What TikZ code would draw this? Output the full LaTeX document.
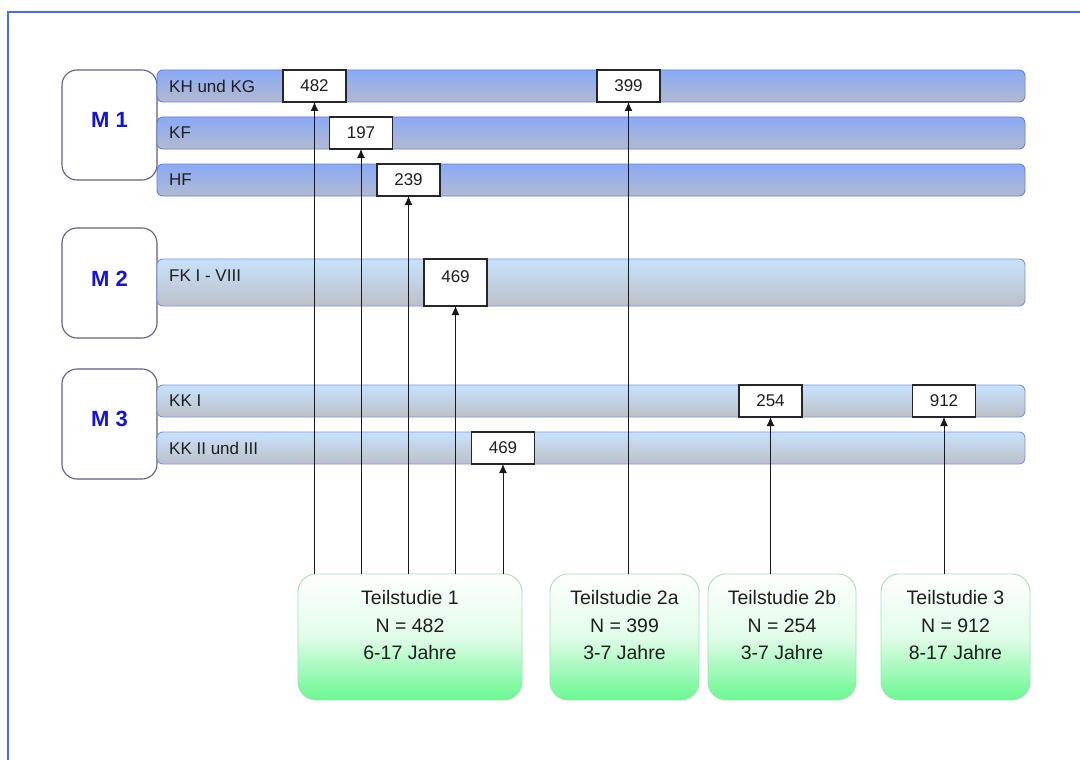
\documentclass[tikz,border=0pt]{standalone}
\usepackage{fontspec}
\setmainfont{Liberation Sans}
\definecolor{frameblue}{RGB}{70,110,250}
\definecolor{barAtop}{RGB}{138,170,248}
\definecolor{barAbot}{RGB}{178,186,206}
\definecolor{barAline}{RGB}{100,125,225}
\definecolor{barBtop}{RGB}{200,226,252}
\definecolor{barBbot}{RGB}{188,192,200}
\definecolor{barBline}{RGB}{125,145,230}
\definecolor{mline}{RGB}{95,95,135}
\definecolor{mtext}{RGB}{20,20,215}
\definecolor{tsgreen}{RGB}{105,248,145}
\definecolor{tsmid}{RGB}{225,252,232}
\definecolor{tsline}{RGB}{165,225,185}
\definecolor{txt}{RGB}{30,30,30}
\usetikzlibrary{arrows.meta}
\tikzset{
  mbox/.style={draw=mline, line width=1.1pt, fill=white, rounded corners=15pt,
    minimum width=95pt, minimum height=110pt, inner sep=0pt, outer sep=0pt, anchor=north west},
  mlabel/.style={text=mtext, font=\fontsize{22}{24}\selectfont\bfseries, inner sep=0pt},
  barA/.style={draw=barAline, line width=0.9pt, top color=barAtop, bottom color=barAbot,
    rounded corners=6pt, minimum width=868pt, inner sep=0pt, outer sep=0pt, anchor=north west},
  barB/.style={draw=barBline, line width=0.9pt, top color=barBtop, bottom color=barBbot,
    rounded corners=6pt, minimum width=868pt, inner sep=0pt, outer sep=0pt, anchor=north west},
  barlabel/.style={text=txt, font=\fontsize{17}{19}\selectfont, inner sep=0pt, anchor=west},
  numbox/.style={draw=black!85, line width=1.1pt, fill=white, minimum width=63pt,
    minimum height=32pt, inner sep=0pt, outer sep=0pt, text=txt, font=\fontsize{17}{19}\selectfont},
  tsbox/.style={draw=tsline, line width=0.9pt, rounded corners=18pt, top color=white,
    bottom color=tsgreen, middle color=tsmid, minimum height=126pt, inner sep=0pt, outer sep=0pt,
    anchor=north west},
  tstext/.style={text=txt, font=\fontsize{19.5}{27.5}\selectfont, align=center, inner sep=0pt},
  arr/.style={draw=black!90, line width=1pt, -{Latex[length=9pt,width=8pt]}}
}
\begin{document}
\begin{tikzpicture}[x=1pt,y=-1pt]
\useasboundingbox (0,0) rectangle (1080,760);
\fill[white] (0,0) rectangle (1080,760);
% frame
\draw[frameblue, line width=1.6pt] (1085,12) -- (8,12) -- (8,765);
% M boxes
\node[mbox] (m1) at (62,70) {};
\node[mbox] (m2) at (62,228) {};
\node[mbox] (m3) at (62,369) {};
\node[mlabel] at ([yshift=5pt]m1.center) {M 1};
\node[mlabel] at ([yshift=4pt]m2.center) {M 2};
\node[mlabel] at ([yshift=5pt]m3.center) {M 3};
% bars
\node[barA, minimum height=32pt] (b1) at (157,70) {};
\node[barA, minimum height=32pt] (b2) at (157,117) {};
\node[barA, minimum height=32pt] (b3) at (157,164) {};
\node[barB, minimum height=47pt] (b4) at (157,259) {};
\node[barB, minimum height=32pt] (b5) at (157,385) {};
\node[barB, minimum height=32pt] (b6) at (157,432) {};
\node[barlabel] at ([xshift=12pt]b1.west) {KH und KG};
\node[barlabel] at ([xshift=12pt]b2.west) {KF};
\node[barlabel] at ([xshift=12pt]b3.west) {HF};
\node[barlabel] at ([xshift=12pt,yshift=7pt]b4.west) {FK I - VIII};
\node[barlabel] at ([xshift=12pt]b5.west) {KK I};
\node[barlabel] at ([xshift=12pt]b6.west) {KK II und III};
% number boxes
\node[numbox] (n482) at (314.5,86) {482};
\node[numbox] (n197) at (361,133) {197};
\node[numbox] (n239) at (408.5,180) {239};
\node[numbox, minimum height=47pt, text height=11pt, text depth=11pt] (n469a) at (455.5,282.5) {469};
\node[numbox] (n399) at (628.5,86) {399};
\node[numbox] (n469b) at (503,448) {469};
\node[numbox] (n254) at (770.5,401) {254};
\node[numbox] (n912) at (944,401) {912};
% Teilstudie boxes
\node[tsbox, minimum width=224pt] (ts1) at (298,574) {};
\node[tsbox, minimum width=149pt] (ts2a) at (550,574) {};
\node[tsbox, minimum width=148pt] (ts2b) at (708,574) {};
\node[tsbox, minimum width=149pt] (ts3) at (881,574) {};
\node[tstext] at ([yshift=11.5pt]ts1.center) {Teilstudie 1\\N = 482\\6-17 Jahre};
\node[tstext] at ([yshift=11.5pt]ts2a.center) {Teilstudie 2a\\N = 399\\3-7 Jahre};
\node[tstext] at ([yshift=11.5pt]ts2b.center) {Teilstudie 2b\\N = 254\\3-7 Jahre};
\node[tstext] at ([yshift=11.5pt]ts3.center) {Teilstudie 3\\N = 912\\8-17 Jahre};
% arrows
\draw[arr] (ts1.north -| n482.south) -- (n482.south);
\draw[arr] (ts1.north -| n197.south) -- (n197.south);
\draw[arr] (ts1.north -| n239.south) -- (n239.south);
\draw[arr] (ts1.north -| n469a.south) -- (n469a.south);
\draw[arr] (ts1.north -| n469b.south) -- (n469b.south);
\draw[arr] (ts2a.north -| n399.south) -- (n399.south);
\draw[arr] (ts2b.north -| n254.south) -- (n254.south);
\draw[arr] (ts3.north -| n912.south) -- (n912.south);
\end{tikzpicture}
\end{document}
